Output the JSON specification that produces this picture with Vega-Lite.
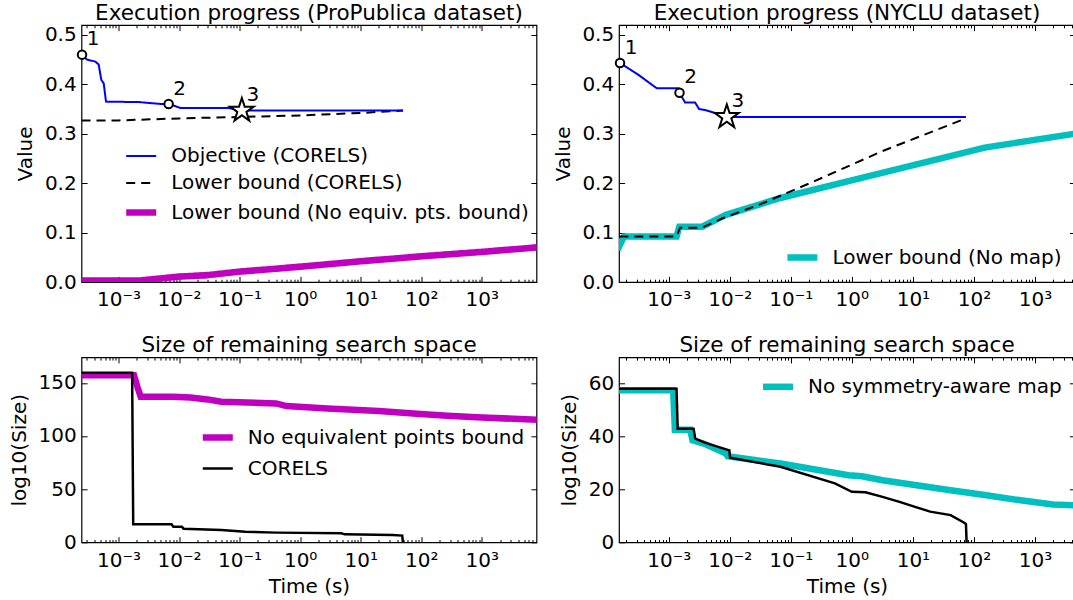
{
  "$schema": "https://vega.github.io/schema/vega-lite/v6.json",
  "background": "white",
  "padding": {"left": 8.5, "top": 2, "right": 0, "bottom": 0},
  "config": {
    "font": "DejaVu Sans",
    "view": {"stroke": "black", "strokeWidth": 1.2},
    "axis": {"domain": false, "grid": false, "labelFont": "DejaVu Sans", "labelFontSize": 20, "labelColor": "black", "titleFont": "DejaVu Sans", "titleFontSize": 20, "titleFontWeight": "normal", "titleColor": "black", "tickColor": "black", "tickWidth": 1},
    "title": {"font": "DejaVu Sans", "fontSize": 21.5, "fontWeight": "normal", "color": "black", "frame": "group", "anchor": "middle", "baseline": "alphabetic", "offset": 0.2},
    "legend": {"labelFont": "DejaVu Sans", "labelFontSize": 20, "labelColor": "black", "labelLimit": 800, "symbolType": "stroke", "symbolSize": 900, "labelOffset": 11.5, "rowPadding": 1, "padding": 0, "orient": "none"}
  },
  "datasets": {
    "tl": [
      {"series": "Lower bound (No equiv. pts. bound)", "t": 0.000245, "v": 0.003},
      {"series": "Lower bound (No equiv. pts. bound)", "t": 0.0022, "v": 0.003},
      {"series": "Lower bound (No equiv. pts. bound)", "t": 0.01, "v": 0.011},
      {"series": "Lower bound (No equiv. pts. bound)", "t": 0.03, "v": 0.014},
      {"series": "Lower bound (No equiv. pts. bound)", "t": 0.1, "v": 0.021},
      {"series": "Lower bound (No equiv. pts. bound)", "t": 1, "v": 0.031},
      {"series": "Lower bound (No equiv. pts. bound)", "t": 10, "v": 0.042},
      {"series": "Lower bound (No equiv. pts. bound)", "t": 100, "v": 0.052},
      {"series": "Lower bound (No equiv. pts. bound)", "t": 1000, "v": 0.061},
      {"series": "Lower bound (No equiv. pts. bound)", "t": 8000, "v": 0.07},
      {"series": "Lower bound (CORELS)", "t": 0.000245, "v": 0.327},
      {"series": "Lower bound (CORELS)", "t": 0.001, "v": 0.327},
      {"series": "Lower bound (CORELS)", "t": 0.01, "v": 0.331},
      {"series": "Lower bound (CORELS)", "t": 0.1, "v": 0.334},
      {"series": "Lower bound (CORELS)", "t": 1, "v": 0.337},
      {"series": "Lower bound (CORELS)", "t": 10, "v": 0.342},
      {"series": "Lower bound (CORELS)", "t": 50, "v": 0.347},
      {"series": "Objective (CORELS)", "t": 0.000245, "v": 0.46},
      {"series": "Objective (CORELS)", "t": 0.000302, "v": 0.45},
      {"series": "Objective (CORELS)", "t": 0.000414, "v": 0.446},
      {"series": "Objective (CORELS)", "t": 0.000471, "v": 0.44},
      {"series": "Objective (CORELS)", "t": 0.00052, "v": 0.409},
      {"series": "Objective (CORELS)", "t": 0.00057, "v": 0.402},
      {"series": "Objective (CORELS)", "t": 0.000622, "v": 0.365},
      {"series": "Objective (CORELS)", "t": 0.0022, "v": 0.364},
      {"series": "Objective (CORELS)", "t": 0.00522, "v": 0.36},
      {"series": "Objective (CORELS)", "t": 0.00673, "v": 0.36},
      {"series": "Objective (CORELS)", "t": 0.00865, "v": 0.356},
      {"series": "Objective (CORELS)", "t": 0.0105, "v": 0.352},
      {"series": "Objective (CORELS)", "t": 0.0658, "v": 0.352},
      {"series": "Objective (CORELS)", "t": 0.109, "v": 0.347},
      {"series": "Objective (CORELS)", "t": 50, "v": 0.347}
    ],
    "tl_pts": [
      {"kind": "circle", "label": "1", "t": 0.00025, "v": 0.46},
      {"kind": "circle", "label": "2", "t": 0.00673, "v": 0.36},
      {"kind": "star", "label": "3", "t": 0.109, "v": 0.347}
    ],
    "tr_cyan": [
      {"series": "Lower bound (No map)", "t": 0.000153, "v": 0.071},
      {"series": "Lower bound (No map)", "t": 0.000184, "v": 0.092},
      {"series": "Lower bound (No map)", "t": 0.00134, "v": 0.092},
      {"series": "Lower bound (No map)", "t": 0.00149, "v": 0.112},
      {"series": "Lower bound (No map)", "t": 0.00352, "v": 0.112},
      {"series": "Lower bound (No map)", "t": 0.00865, "v": 0.136},
      {"series": "Lower bound (No map)", "t": 0.0675, "v": 0.17},
      {"series": "Lower bound (No map)", "t": 0.881, "v": 0.204},
      {"series": "Lower bound (No map)", "t": 11.5, "v": 0.238},
      {"series": "Lower bound (No map)", "t": 150, "v": 0.272},
      {"series": "Lower bound (No map)", "t": 4530, "v": 0.3}
    ],
    "tr_lb": [
      {"t": 0.000155, "v": 0.092},
      {"t": 0.00134, "v": 0.092},
      {"t": 0.00153, "v": 0.11},
      {"t": 0.00352, "v": 0.11},
      {"t": 0.0076, "v": 0.129},
      {"t": 0.0313, "v": 0.157},
      {"t": 0.244, "v": 0.204},
      {"t": 3.18, "v": 0.265},
      {"t": 74, "v": 0.331}
    ],
    "tr_obj": [
      {"t": 0.000155, "v": 0.444},
      {"t": 0.000319, "v": 0.419},
      {"t": 0.000636, "v": 0.392},
      {"t": 0.00144, "v": 0.392},
      {"t": 0.0015, "v": 0.383},
      {"t": 0.00185, "v": 0.363},
      {"t": 0.0027, "v": 0.363},
      {"t": 0.00314, "v": 0.35},
      {"t": 0.00394, "v": 0.348},
      {"t": 0.00574, "v": 0.342},
      {"t": 0.00893, "v": 0.334},
      {"t": 74, "v": 0.334}
    ],
    "tr_pts": [
      {"kind": "circle", "label": "1", "t": 0.000159, "v": 0.443},
      {"kind": "circle", "label": "2", "t": 0.0015, "v": 0.383},
      {"kind": "star", "label": "3", "t": 0.00893, "v": 0.334}
    ],
    "bl": [
      {"series": "No equivalent points bound", "t": 0.000245, "v": 157.2},
      {"series": "No equivalent points bound", "t": 0.0018, "v": 157.2},
      {"series": "No equivalent points bound", "t": 0.00205, "v": 146.3},
      {"series": "No equivalent points bound", "t": 0.00233, "v": 136.9},
      {"series": "No equivalent points bound", "t": 0.00804, "v": 136.9},
      {"series": "No equivalent points bound", "t": 0.0154, "v": 136.2},
      {"series": "No equivalent points bound", "t": 0.0296, "v": 134.4},
      {"series": "No equivalent points bound", "t": 0.0499, "v": 132.2},
      {"series": "No equivalent points bound", "t": 0.401, "v": 130.6},
      {"series": "No equivalent points bound", "t": 0.593, "v": 128.1},
      {"series": "No equivalent points bound", "t": 2.83, "v": 125.9},
      {"series": "No equivalent points bound", "t": 20, "v": 123.4},
      {"series": "No equivalent points bound", "t": 73.6, "v": 121.2},
      {"series": "No equivalent points bound", "t": 271, "v": 119},
      {"series": "No equivalent points bound", "t": 1000, "v": 117.4},
      {"series": "No equivalent points bound", "t": 6600, "v": 115.5},
      {"series": "No equivalent points bound", "t": 8000, "v": 115.3},
      {"series": "CORELS", "t": 0.000245, "v": 159.4},
      {"series": "CORELS", "t": 0.00168, "v": 159.4},
      {"series": "CORELS", "t": 0.00175, "v": 16.9},
      {"series": "CORELS", "t": 0.00753, "v": 16.9},
      {"series": "CORELS", "t": 0.00804, "v": 14.7},
      {"series": "CORELS", "t": 0.0111, "v": 14.7},
      {"series": "CORELS", "t": 0.0119, "v": 12.8},
      {"series": "CORELS", "t": 0.0499, "v": 11.6},
      {"series": "CORELS", "t": 0.124, "v": 10},
      {"series": "CORELS", "t": 0.401, "v": 9.1},
      {"series": "CORELS", "t": 4.78, "v": 8.5},
      {"series": "CORELS", "t": 5.43, "v": 7.5},
      {"series": "CORELS", "t": 33.7, "v": 6.9},
      {"series": "CORELS", "t": 48.5, "v": 6.3},
      {"series": "CORELS", "t": 49.8, "v": 0}
    ],
    "br_cyan": [
      {"series": "No symmetry-aware map", "t": 0.000153, "v": 57.5},
      {"series": "No symmetry-aware map", "t": 0.00118, "v": 57.5},
      {"series": "No symmetry-aware map", "t": 0.00126, "v": 42.6},
      {"series": "No symmetry-aware map", "t": 0.00224, "v": 42.6},
      {"series": "No symmetry-aware map", "t": 0.00245, "v": 38.6},
      {"series": "No symmetry-aware map", "t": 0.004, "v": 37.1},
      {"series": "No symmetry-aware map", "t": 0.00865, "v": 33.6},
      {"series": "No symmetry-aware map", "t": 0.00922, "v": 32.6},
      {"series": "No symmetry-aware map", "t": 0.0675, "v": 29.8},
      {"series": "No symmetry-aware map", "t": 0.881, "v": 25.4},
      {"series": "No symmetry-aware map", "t": 1.47, "v": 25},
      {"series": "No symmetry-aware map", "t": 3.18, "v": 23.5},
      {"series": "No symmetry-aware map", "t": 11.5, "v": 21.6},
      {"series": "No symmetry-aware map", "t": 41.5, "v": 19.7},
      {"series": "No symmetry-aware map", "t": 150, "v": 17.9},
      {"series": "No symmetry-aware map", "t": 541, "v": 16},
      {"series": "No symmetry-aware map", "t": 1954, "v": 14.3},
      {"series": "No symmetry-aware map", "t": 4530, "v": 14}
    ],
    "br_black": [
      {"t": 0.000153, "v": 58.1},
      {"t": 0.00134, "v": 58.1},
      {"t": 0.0014, "v": 43},
      {"t": 0.00255, "v": 43},
      {"t": 0.00272, "v": 39.2},
      {"t": 0.004, "v": 37.6},
      {"t": 0.00984, "v": 34.8},
      {"t": 0.0101, "v": 32},
      {"t": 0.0675, "v": 28.6},
      {"t": 0.527, "v": 22.3},
      {"t": 1, "v": 19.1},
      {"t": 1.67, "v": 18.9},
      {"t": 3.18, "v": 17.2},
      {"t": 6.04, "v": 15.3},
      {"t": 11.5, "v": 13.2},
      {"t": 19.2, "v": 11.6},
      {"t": 41.5, "v": 10.3},
      {"t": 69.3, "v": 7.4},
      {"t": 74, "v": 6.9},
      {"t": 75.9, "v": 0}
    ]
  },
  "columns": 2,
  "spacing": {"row": 20.3, "column": 13.5},
  "resolve": {
    "scale": {"x": "independent", "y": "independent", "color": "independent", "strokeDash": "independent", "strokeWidth": "independent"},
    "legend": {"color": "independent", "strokeDash": "independent", "strokeWidth": "independent"},
    "axis": {"x": "independent", "y": "independent"}
  },
  "concat": [
    {
      "width": 455, "height": 257,
      "title": "Execution progress (ProPublica dataset)",
      "resolve": {"axis": {"x": "independent", "y": "independent"}},
      "layer": [
        {
          "data": {"name": "tl"},
          "transform": [{"filter": "datum.series == 'Lower bound (No equiv. pts. bound)'"}],
          "mark": {"type": "line", "clip": true, "strokeCap": "square"},
          "encoding": {
            "x": {"field": "t", "type": "quantitative", "scale": {"type": "log", "domain": [0.000245, 8000], "nice": false},
              "axis": {"orient": "bottom", "values": [0.0003,0.0004,0.0005,0.0006,0.0007,0.0008,0.0009,0.001,0.002,0.003,0.004,0.005,0.006,0.007,0.008,0.009,0.01,0.02,0.03,0.04,0.05,0.06,0.07,0.08,0.09,0.1,0.2,0.3,0.4,0.5,0.6,0.7,0.8,0.9,1,2,3,4,5,6,7,8,9,10,20,30,40,50,60,70,80,90,100,200,300,400,500,600,700,800,900,1000,2000,3000,4000,5000,6000,7000],
                "labelExpr": "abs(log(datum.value)/LN10 - round(log(datum.value)/LN10)) > 0.001 ? '' : round(log(datum.value)/LN10) == -3 ? '10⁻³' : round(log(datum.value)/LN10) == -2 ? '10⁻²' : round(log(datum.value)/LN10) == -1 ? '10⁻¹' : round(log(datum.value)/LN10) == 0 ? '10⁰' : round(log(datum.value)/LN10) == 1 ? '10¹' : round(log(datum.value)/LN10) == 2 ? '10²' : '10³'",
                "tickSize": {"condition": {"test": "abs(log(datum.value)/LN10 - round(log(datum.value)/LN10)) < 0.001", "value": -5.6}, "value": -2.8},
                "labelPadding": 13.5, "labelFlush": false, "labelOverlap": false, "labelBound": false, "title": null}},
            "y": {"field": "v", "type": "quantitative", "scale": {"domain": [0, 0.52], "nice": false, "zero": false},
              "axis": {"orient": "left", "values": [0, 0.1, 0.2, 0.3, 0.4, 0.5], "format": ".1f", "tickSize": -5.6, "labelPadding": 10.9, "title": "Value", "titlePadding": 8.6}},
            "color": {"field": "series", "type": "nominal", "scale": {"domain": ["Objective (CORELS)", "Lower bound (CORELS)", "Lower bound (No equiv. pts. bound)"], "range": ["#0000ff", "#000000", "#bf00bf"]}, "legend": {"orient": "none", "legendX": 41.2, "legendY": 115, "title": null}},
            "strokeDash": {"field": "series", "type": "nominal", "scale": {"domain": ["Objective (CORELS)", "Lower bound (CORELS)", "Lower bound (No equiv. pts. bound)"], "range": [[1, 0], [9, 6], [1, 0]]}, "legend": {"orient": "none", "legendX": 41.2, "legendY": 115, "title": null}},
            "strokeWidth": {"field": "series", "type": "nominal", "scale": {"type": "ordinal", "domain": ["Objective (CORELS)", "Lower bound (CORELS)", "Lower bound (No equiv. pts. bound)"], "range": [2, 2, 6.5]}, "legend": {"orient": "none", "legendX": 41.2, "legendY": 115, "title": null}}
          }
        },
        {
          "data": {"name": "tl"},
          "transform": [{"filter": "datum.series != 'Lower bound (No equiv. pts. bound)'"}],
          "mark": {"type": "line", "clip": true},
          "encoding": {
            "x": {"field": "t", "type": "quantitative", "scale": {"type": "log", "domain": [0.000245, 8000], "nice": false},
              "axis": {"orient": "top", "values": [0.0003,0.0004,0.0005,0.0006,0.0007,0.0008,0.0009,0.001,0.002,0.003,0.004,0.005,0.006,0.007,0.008,0.009,0.01,0.02,0.03,0.04,0.05,0.06,0.07,0.08,0.09,0.1,0.2,0.3,0.4,0.5,0.6,0.7,0.8,0.9,1,2,3,4,5,6,7,8,9,10,20,30,40,50,60,70,80,90,100,200,300,400,500,600,700,800,900,1000,2000,3000,4000,5000,6000,7000],
                "labels": false,
                "tickSize": {"condition": {"test": "abs(log(datum.value)/LN10 - round(log(datum.value)/LN10)) < 0.001", "value": -5.6}, "value": -2.8},
                "title": null}},
            "y": {"field": "v", "type": "quantitative", "scale": {"domain": [0, 0.52], "nice": false, "zero": false},
              "axis": {"orient": "right", "values": [0, 0.1, 0.2, 0.3, 0.4, 0.5], "labels": false, "tickSize": -5.6, "title": null}},
            "color": {"field": "series", "type": "nominal", "scale": {"domain": ["Objective (CORELS)", "Lower bound (CORELS)", "Lower bound (No equiv. pts. bound)"], "range": ["#0000ff", "#000000", "#bf00bf"]}, "legend": {"orient": "none", "legendX": 41.2, "legendY": 115, "title": null}},
            "strokeDash": {"field": "series", "type": "nominal", "scale": {"domain": ["Objective (CORELS)", "Lower bound (CORELS)", "Lower bound (No equiv. pts. bound)"], "range": [[1, 0], [9, 6], [1, 0]]}, "legend": {"orient": "none", "legendX": 41.2, "legendY": 115, "title": null}},
            "strokeWidth": {"field": "series", "type": "nominal", "scale": {"type": "ordinal", "domain": ["Objective (CORELS)", "Lower bound (CORELS)", "Lower bound (No equiv. pts. bound)"], "range": [2, 2, 6.5]}, "legend": {"orient": "none", "legendX": 41.2, "legendY": 115, "title": null}}
          }
        },
        {
          "data": {"name": "tl_pts"},
          "transform": [{"filter": "datum.kind == 'circle'"}],
          "mark": {"type": "point", "shape": "circle", "size": 72, "filled": true, "fill": "white", "stroke": "black", "strokeWidth": 2, "opacity": 1},
          "encoding": {
            "x": {"field": "t", "type": "quantitative", "scale": {"type": "log", "domain": [0.000245, 8000], "nice": false}, "axis": null},
            "y": {"field": "v", "type": "quantitative", "scale": {"domain": [0, 0.52], "nice": false, "zero": false}, "axis": null}
          }
        },
        {
          "data": {"name": "tl_pts"},
          "transform": [{"filter": "datum.kind == 'star'"}],
          "mark": {"type": "point", "shape": "M0,-1L0.225,-0.309L0.951,-0.309L0.363,0.118L0.588,0.809L0,0.382L-0.588,0.809L-0.363,0.118L-0.951,-0.309L-0.225,-0.309Z", "size": 625, "filled": true, "fill": "white", "stroke": "black", "strokeWidth": 2, "opacity": 1},
          "encoding": {
            "x": {"field": "t", "type": "quantitative", "scale": {"type": "log", "domain": [0.000245, 8000], "nice": false}, "axis": null},
            "y": {"field": "v", "type": "quantitative", "scale": {"domain": [0, 0.52], "nice": false, "zero": false}, "axis": null}
          }
        },
        {
          "data": {"name": "tl_pts"},
          "mark": {"type": "text", "dx": 11, "dy": -15.5, "fontSize": 20, "font": "DejaVu Sans", "align": "center", "baseline": "middle", "color": "black"},
          "encoding": {
            "x": {"field": "t", "type": "quantitative", "scale": {"type": "log", "domain": [0.000245, 8000], "nice": false}, "axis": null},
            "y": {"field": "v", "type": "quantitative", "scale": {"domain": [0, 0.52], "nice": false, "zero": false}, "axis": null},
            "text": {"field": "label"}
          }
        }
      ]
    },
    {
      "width": 456, "height": 257,
      "title": "Execution progress (NYCLU dataset)",
      "resolve": {"axis": {"x": "independent", "y": "independent"}},
      "layer": [
        {
          "data": {"name": "tr_cyan"},
          "mark": {"type": "line", "clip": true, "strokeCap": "square"},
          "encoding": {
            "x": {"field": "t", "type": "quantitative", "scale": {"type": "log", "domain": [0.000153, 4530], "nice": false},
              "axis": {"orient": "bottom", "values": [0.0002,0.0003,0.0004,0.0005,0.0006,0.0007,0.0008,0.0009,0.001,0.002,0.003,0.004,0.005,0.006,0.007,0.008,0.009,0.01,0.02,0.03,0.04,0.05,0.06,0.07,0.08,0.09,0.1,0.2,0.3,0.4,0.5,0.6,0.7,0.8,0.9,1,2,3,4,5,6,7,8,9,10,20,30,40,50,60,70,80,90,100,200,300,400,500,600,700,800,900,1000,2000,3000,4000],
                "labelExpr": "abs(log(datum.value)/LN10 - round(log(datum.value)/LN10)) > 0.001 ? '' : round(log(datum.value)/LN10) == -3 ? '10⁻³' : round(log(datum.value)/LN10) == -2 ? '10⁻²' : round(log(datum.value)/LN10) == -1 ? '10⁻¹' : round(log(datum.value)/LN10) == 0 ? '10⁰' : round(log(datum.value)/LN10) == 1 ? '10¹' : round(log(datum.value)/LN10) == 2 ? '10²' : '10³'",
                "tickSize": {"condition": {"test": "abs(log(datum.value)/LN10 - round(log(datum.value)/LN10)) < 0.001", "value": -5.6}, "value": -2.8},
                "labelPadding": 13.5, "labelFlush": false, "labelOverlap": false, "labelBound": false, "title": null}},
            "y": {"field": "v", "type": "quantitative", "scale": {"domain": [0, 0.52], "nice": false, "zero": false},
              "axis": {"orient": "left", "values": [0, 0.1, 0.2, 0.3, 0.4, 0.5], "format": ".1f", "tickSize": -5.6, "labelPadding": 10.9, "title": "Value", "titlePadding": 8.6}},
            "color": {"field": "series", "type": "nominal", "scale": {"domain": ["Lower bound (No map)"], "range": ["#00bfbf"]}, "legend": {"orient": "none", "legendX": 164.9, "legendY": 214, "title": null}},
            "strokeWidth": {"field": "series", "type": "nominal", "scale": {"type": "ordinal", "domain": ["Lower bound (No map)"], "range": [6.5]}, "legend": {"orient": "none", "legendX": 164.9, "legendY": 214, "title": null}}
          }
        },
        {
          "data": {"name": "tr_lb"},
          "mark": {"type": "line", "clip": true, "color": "black", "strokeWidth": 2, "strokeDash": [9, 6]},
          "encoding": {
            "x": {"field": "t", "type": "quantitative", "scale": {"type": "log", "domain": [0.000153, 4530], "nice": false},
              "axis": {"orient": "top", "values": [0.0002,0.0003,0.0004,0.0005,0.0006,0.0007,0.0008,0.0009,0.001,0.002,0.003,0.004,0.005,0.006,0.007,0.008,0.009,0.01,0.02,0.03,0.04,0.05,0.06,0.07,0.08,0.09,0.1,0.2,0.3,0.4,0.5,0.6,0.7,0.8,0.9,1,2,3,4,5,6,7,8,9,10,20,30,40,50,60,70,80,90,100,200,300,400,500,600,700,800,900,1000,2000,3000,4000],
                "labels": false,
                "tickSize": {"condition": {"test": "abs(log(datum.value)/LN10 - round(log(datum.value)/LN10)) < 0.001", "value": -5.6}, "value": -2.8},
                "title": null}},
            "y": {"field": "v", "type": "quantitative", "scale": {"domain": [0, 0.52], "nice": false, "zero": false},
              "axis": {"orient": "right", "values": [0, 0.1, 0.2, 0.3, 0.4, 0.5], "labels": false, "tickSize": -5.6, "title": null}}
          }
        },
        {
          "data": {"name": "tr_obj"},
          "mark": {"type": "line", "clip": true, "color": "#0000ff", "strokeWidth": 2},
          "encoding": {
            "x": {"field": "t", "type": "quantitative", "scale": {"type": "log", "domain": [0.000153, 4530], "nice": false}, "axis": null},
            "y": {"field": "v", "type": "quantitative", "scale": {"domain": [0, 0.52], "nice": false, "zero": false}, "axis": null}
          }
        },
        {
          "data": {"name": "tr_pts"},
          "transform": [{"filter": "datum.kind == 'circle'"}],
          "mark": {"type": "point", "shape": "circle", "size": 72, "filled": true, "fill": "white", "stroke": "black", "strokeWidth": 2, "opacity": 1},
          "encoding": {
            "x": {"field": "t", "type": "quantitative", "scale": {"type": "log", "domain": [0.000153, 4530], "nice": false}, "axis": null},
            "y": {"field": "v", "type": "quantitative", "scale": {"domain": [0, 0.52], "nice": false, "zero": false}, "axis": null}
          }
        },
        {
          "data": {"name": "tr_pts"},
          "transform": [{"filter": "datum.kind == 'star'"}],
          "mark": {"type": "point", "shape": "M0,-1L0.225,-0.309L0.951,-0.309L0.363,0.118L0.588,0.809L0,0.382L-0.588,0.809L-0.363,0.118L-0.951,-0.309L-0.225,-0.309Z", "size": 625, "filled": true, "fill": "white", "stroke": "black", "strokeWidth": 2, "opacity": 1},
          "encoding": {
            "x": {"field": "t", "type": "quantitative", "scale": {"type": "log", "domain": [0.000153, 4530], "nice": false}, "axis": null},
            "y": {"field": "v", "type": "quantitative", "scale": {"domain": [0, 0.52], "nice": false, "zero": false}, "axis": null}
          }
        },
        {
          "data": {"name": "tr_pts"},
          "mark": {"type": "text", "dx": 11, "dy": -15.5, "fontSize": 20, "font": "DejaVu Sans", "align": "center", "baseline": "middle", "color": "black"},
          "encoding": {
            "x": {"field": "t", "type": "quantitative", "scale": {"type": "log", "domain": [0.000153, 4530], "nice": false}, "axis": null},
            "y": {"field": "v", "type": "quantitative", "scale": {"domain": [0, 0.52], "nice": false, "zero": false}, "axis": null},
            "text": {"field": "label"}
          }
        }
      ]
    },
    {
      "width": 455, "height": 185,
      "title": "Size of remaining search space",
      "resolve": {"axis": {"x": "independent", "y": "independent"}},
      "layer": [
        {
          "data": {"name": "bl"},
          "transform": [{"filter": "datum.series == 'No equivalent points bound'"}],
          "mark": {"type": "line", "clip": true, "strokeCap": "square"},
          "encoding": {
            "x": {"field": "t", "type": "quantitative", "scale": {"type": "log", "domain": [0.000245, 8000], "nice": false},
              "axis": {"orient": "bottom", "values": [0.0003,0.0004,0.0005,0.0006,0.0007,0.0008,0.0009,0.001,0.002,0.003,0.004,0.005,0.006,0.007,0.008,0.009,0.01,0.02,0.03,0.04,0.05,0.06,0.07,0.08,0.09,0.1,0.2,0.3,0.4,0.5,0.6,0.7,0.8,0.9,1,2,3,4,5,6,7,8,9,10,20,30,40,50,60,70,80,90,100,200,300,400,500,600,700,800,900,1000,2000,3000,4000,5000,6000,7000],
                "labelExpr": "abs(log(datum.value)/LN10 - round(log(datum.value)/LN10)) > 0.001 ? '' : round(log(datum.value)/LN10) == -3 ? '10⁻³' : round(log(datum.value)/LN10) == -2 ? '10⁻²' : round(log(datum.value)/LN10) == -1 ? '10⁻¹' : round(log(datum.value)/LN10) == 0 ? '10⁰' : round(log(datum.value)/LN10) == 1 ? '10¹' : round(log(datum.value)/LN10) == 2 ? '10²' : '10³'",
                "tickSize": {"condition": {"test": "abs(log(datum.value)/LN10 - round(log(datum.value)/LN10)) < 0.001", "value": -5.6}, "value": -2.8},
                "labelPadding": 13.5, "labelFlush": false, "labelOverlap": false, "labelBound": false, "title": "Time (s)", "titlePadding": 3}},
            "y": {"field": "v", "type": "quantitative", "scale": {"domain": [0, 174], "nice": false, "zero": false},
              "axis": {"orient": "left", "values": [0, 50, 100, 150], "tickSize": -5.6, "labelPadding": 10.9, "title": "log10(Size)", "titlePadding": 8.6}},
            "color": {"field": "series", "type": "nominal", "scale": {"domain": ["No equivalent points bound", "CORELS"], "range": ["#bf00bf", "#000000"]}, "legend": {"orient": "none", "legendX": 117.8, "legendY": 61.7, "title": null}},
            "strokeWidth": {"field": "series", "type": "nominal", "scale": {"type": "ordinal", "domain": ["No equivalent points bound", "CORELS"], "range": [6.5, 2.5]}, "legend": {"orient": "none", "legendX": 117.8, "legendY": 61.7, "title": null}}
          }
        },
        {
          "data": {"name": "bl"},
          "transform": [{"filter": "datum.series == 'CORELS'"}],
          "mark": {"type": "line", "clip": true},
          "encoding": {
            "x": {"field": "t", "type": "quantitative", "scale": {"type": "log", "domain": [0.000245, 8000], "nice": false},
              "axis": {"orient": "top", "values": [0.0003,0.0004,0.0005,0.0006,0.0007,0.0008,0.0009,0.001,0.002,0.003,0.004,0.005,0.006,0.007,0.008,0.009,0.01,0.02,0.03,0.04,0.05,0.06,0.07,0.08,0.09,0.1,0.2,0.3,0.4,0.5,0.6,0.7,0.8,0.9,1,2,3,4,5,6,7,8,9,10,20,30,40,50,60,70,80,90,100,200,300,400,500,600,700,800,900,1000,2000,3000,4000,5000,6000,7000],
                "labels": false,
                "tickSize": {"condition": {"test": "abs(log(datum.value)/LN10 - round(log(datum.value)/LN10)) < 0.001", "value": -5.6}, "value": -2.8},
                "title": null}},
            "y": {"field": "v", "type": "quantitative", "scale": {"domain": [0, 174], "nice": false, "zero": false},
              "axis": {"orient": "right", "values": [0, 50, 100, 150], "labels": false, "tickSize": -5.6, "title": null}},
            "color": {"field": "series", "type": "nominal", "scale": {"domain": ["No equivalent points bound", "CORELS"], "range": ["#bf00bf", "#000000"]}, "legend": {"orient": "none", "legendX": 117.8, "legendY": 61.7, "title": null}},
            "strokeWidth": {"field": "series", "type": "nominal", "scale": {"type": "ordinal", "domain": ["No equivalent points bound", "CORELS"], "range": [6.5, 2.5]}, "legend": {"orient": "none", "legendX": 117.8, "legendY": 61.7, "title": null}}
          }
        }
      ]
    },
    {
      "width": 456, "height": 185,
      "title": "Size of remaining search space",
      "resolve": {"axis": {"x": "independent", "y": "independent"}},
      "layer": [
        {
          "data": {"name": "br_cyan"},
          "mark": {"type": "line", "clip": true, "strokeCap": "square"},
          "encoding": {
            "x": {"field": "t", "type": "quantitative", "scale": {"type": "log", "domain": [0.000153, 4530], "nice": false},
              "axis": {"orient": "bottom", "values": [0.0002,0.0003,0.0004,0.0005,0.0006,0.0007,0.0008,0.0009,0.001,0.002,0.003,0.004,0.005,0.006,0.007,0.008,0.009,0.01,0.02,0.03,0.04,0.05,0.06,0.07,0.08,0.09,0.1,0.2,0.3,0.4,0.5,0.6,0.7,0.8,0.9,1,2,3,4,5,6,7,8,9,10,20,30,40,50,60,70,80,90,100,200,300,400,500,600,700,800,900,1000,2000,3000,4000],
                "labelExpr": "abs(log(datum.value)/LN10 - round(log(datum.value)/LN10)) > 0.001 ? '' : round(log(datum.value)/LN10) == -3 ? '10⁻³' : round(log(datum.value)/LN10) == -2 ? '10⁻²' : round(log(datum.value)/LN10) == -1 ? '10⁻¹' : round(log(datum.value)/LN10) == 0 ? '10⁰' : round(log(datum.value)/LN10) == 1 ? '10¹' : round(log(datum.value)/LN10) == 2 ? '10²' : '10³'",
                "tickSize": {"condition": {"test": "abs(log(datum.value)/LN10 - round(log(datum.value)/LN10)) < 0.001", "value": -5.6}, "value": -2.8},
                "labelPadding": 13.5, "labelFlush": false, "labelOverlap": false, "labelBound": false, "title": "Time (s)", "titlePadding": 3}},
            "y": {"field": "v", "type": "quantitative", "scale": {"domain": [0, 70], "nice": false, "zero": false},
              "axis": {"orient": "left", "values": [0, 20, 40, 60], "tickSize": -5.6, "labelPadding": 10.9, "title": "log10(Size)", "titlePadding": 8.6}},
            "color": {"field": "series", "type": "nominal", "scale": {"domain": ["No symmetry-aware map"], "range": ["#00bfbf"]}, "legend": {"orient": "none", "legendX": 140.5, "legendY": 11, "title": null}},
            "strokeWidth": {"field": "series", "type": "nominal", "scale": {"type": "ordinal", "domain": ["No symmetry-aware map"], "range": [6.5]}, "legend": {"orient": "none", "legendX": 140.5, "legendY": 11, "title": null}}
          }
        },
        {
          "data": {"name": "br_black"},
          "mark": {"type": "line", "clip": true, "color": "black", "strokeWidth": 2.5},
          "encoding": {
            "x": {"field": "t", "type": "quantitative", "scale": {"type": "log", "domain": [0.000153, 4530], "nice": false},
              "axis": {"orient": "top", "values": [0.0002,0.0003,0.0004,0.0005,0.0006,0.0007,0.0008,0.0009,0.001,0.002,0.003,0.004,0.005,0.006,0.007,0.008,0.009,0.01,0.02,0.03,0.04,0.05,0.06,0.07,0.08,0.09,0.1,0.2,0.3,0.4,0.5,0.6,0.7,0.8,0.9,1,2,3,4,5,6,7,8,9,10,20,30,40,50,60,70,80,90,100,200,300,400,500,600,700,800,900,1000,2000,3000,4000],
                "labels": false,
                "tickSize": {"condition": {"test": "abs(log(datum.value)/LN10 - round(log(datum.value)/LN10)) < 0.001", "value": -5.6}, "value": -2.8},
                "title": null}},
            "y": {"field": "v", "type": "quantitative", "scale": {"domain": [0, 70], "nice": false, "zero": false},
              "axis": {"orient": "right", "values": [0, 20, 40, 60], "labels": false, "tickSize": -5.6, "title": null}}
          }
        }
      ]
    }
  ]
}
